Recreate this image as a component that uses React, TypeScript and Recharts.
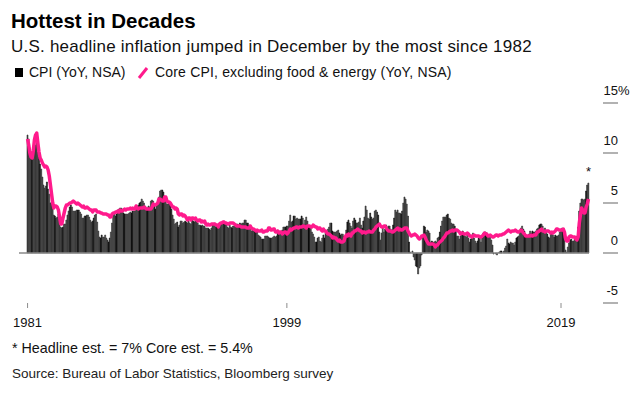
import React from "react";
import {
  Bar,
  ComposedChart,
  Line,
  ReferenceDot,
  ReferenceLine,
  XAxis,
  YAxis,
} from "recharts";

const startYear = 1981;

// CPI, YoY % (NSA), monthly, one row per year from 1981
const cpi = [
  11.8, 11.4, 10.5, 10.0, 9.8, 9.6, 10.8, 10.8, 11.0, 10.1, 9.6, 8.9,
  8.4, 7.6, 6.8, 6.5, 6.7, 7.1, 6.4, 5.9, 5.0, 5.1, 4.6, 3.8,
  3.7, 3.5, 3.6, 3.9, 3.5, 2.6, 2.5, 2.6, 2.9, 2.9, 3.3, 3.8,
  4.2, 4.6, 4.8, 4.6, 4.2, 4.2, 4.2, 4.3, 4.3, 4.3, 4.1, 3.9,
  3.5, 3.5, 3.7, 3.7, 3.8, 3.8, 3.6, 3.3, 3.1, 3.2, 3.5, 3.8,
  3.9, 3.1, 2.2, 1.6, 1.5, 1.8, 1.6, 1.6, 1.8, 1.5, 1.3, 1.1,
  1.5, 2.1, 3.0, 3.8, 3.9, 3.7, 3.9, 4.3, 4.4, 4.5, 4.5, 4.4,
  4.0, 3.9, 3.9, 3.9, 3.9, 4.0, 4.1, 4.0, 4.2, 4.2, 4.2, 4.4,
  4.7, 4.8, 5.0, 5.1, 5.4, 5.2, 5.0, 4.7, 4.3, 4.5, 4.7, 4.6,
  5.2, 5.3, 5.2, 4.7, 4.4, 4.7, 4.8, 5.6, 6.2, 6.3, 6.3, 6.1,
  5.7, 5.3, 4.9, 4.9, 5.0, 4.7, 4.4, 3.8, 3.4, 2.9, 3.0, 3.1,
  2.6, 2.8, 3.2, 3.2, 3.0, 3.1, 3.2, 3.1, 3.0, 3.2, 3.0, 2.9,
  3.3, 3.2, 3.1, 3.2, 3.2, 3.0, 2.8, 2.8, 2.7, 2.8, 2.7, 2.7,
  2.5, 2.5, 2.5, 2.4, 2.3, 2.5, 2.8, 2.9, 3.0, 2.6, 2.7, 2.7,
  2.8, 2.9, 2.9, 3.1, 3.2, 3.0, 2.8, 2.6, 2.5, 2.8, 2.6, 2.5,
  2.7, 2.7, 2.8, 2.9, 2.9, 2.8, 3.0, 2.9, 3.0, 3.0, 3.3, 3.3,
  3.0, 3.0, 2.8, 2.5, 2.2, 2.3, 2.2, 2.2, 2.2, 2.1, 1.8, 1.7,
  1.6, 1.4, 1.4, 1.4, 1.7, 1.7, 1.7, 1.6, 1.5, 1.5, 1.5, 1.6,
  1.7, 1.6, 1.7, 2.3, 2.1, 2.0, 2.1, 2.3, 2.6, 2.6, 2.6, 2.7,
  2.7, 3.2, 3.8, 3.1, 3.2, 3.7, 3.7, 3.4, 3.5, 3.4, 3.4, 3.4,
  3.7, 3.5, 2.9, 3.3, 3.6, 3.2, 2.7, 2.7, 2.6, 2.1, 1.9, 1.6,
  1.1, 1.1, 1.5, 1.6, 1.2, 1.1, 1.5, 1.8, 1.5, 2.0, 2.2, 2.4,
  2.6, 3.0, 3.0, 2.2, 2.1, 2.1, 2.1, 2.2, 2.3, 2.0, 1.8, 1.9,
  1.9, 1.7, 1.7, 2.3, 3.1, 3.3, 3.0, 2.7, 2.5, 3.2, 3.5, 3.3,
  3.0, 3.0, 3.1, 3.5, 2.8, 2.5, 3.2, 3.6, 4.7, 4.3, 3.5, 3.4,
  4.0, 3.6, 3.4, 3.5, 4.2, 4.3, 4.1, 3.8, 2.1, 1.3, 2.0, 2.5,
  2.1, 2.4, 2.8, 2.6, 2.7, 2.7, 2.4, 2.0, 2.8, 3.5, 4.3, 4.1,
  4.3, 4.0, 4.0, 3.9, 4.2, 5.0, 5.6, 5.4, 4.9, 3.7, 1.1, 0.1,
  0.0, 0.2, -0.4, -0.7, -1.3, -1.4, -2.1, -1.5, -1.3, -0.2, 1.8, 2.7,
  2.6, 2.1, 2.3, 2.2, 2.0, 1.1, 1.2, 1.1, 1.1, 1.2, 1.1, 1.5,
  1.6, 2.1, 2.7, 3.2, 3.6, 3.6, 3.6, 3.8, 3.9, 3.5, 3.4, 3.0,
  2.9, 2.9, 2.7, 2.3, 1.7, 1.7, 1.4, 1.7, 2.0, 2.2, 1.8, 1.7,
  1.6, 2.0, 1.5, 1.1, 1.4, 1.8, 2.0, 1.5, 1.2, 1.0, 1.2, 1.5,
  1.6, 1.1, 1.5, 2.0, 2.1, 2.1, 2.0, 1.7, 1.7, 1.7, 1.3, 0.8,
  -0.1, 0.0, -0.1, -0.2, 0.0, 0.1, 0.2, 0.2, 0.0, 0.2, 0.5, 0.7,
  1.4, 1.0, 0.9, 1.1, 1.0, 1.0, 0.8, 1.1, 1.5, 1.6, 1.7, 2.1,
  2.5, 2.7, 2.4, 2.2, 1.9, 1.6, 1.7, 1.9, 2.2, 2.0, 2.2, 2.1,
  2.1, 2.2, 2.4, 2.5, 2.8, 2.9, 2.9, 2.7, 2.3, 2.5, 2.2, 1.9,
  1.6, 1.5, 1.9, 2.0, 1.8, 1.6, 1.8, 1.7, 1.7, 1.8, 2.1, 2.3,
  2.5, 2.3, 1.5, 0.3, 0.1, 0.6, 1.0, 1.3, 1.4, 1.2, 1.2, 1.4,
  1.4, 1.7, 2.6, 4.2, 5.0, 5.4, 5.4, 5.3, 5.4, 6.2, 6.8, 7.0,
];

// Core CPI excluding food & energy, YoY % (NSA), same months
const core = [
  11.4, 10.8, 10.0, 9.6, 9.5, 10.2, 11.3, 11.8, 12.0, 11.0, 10.1, 9.5,
  9.3, 9.0, 8.8, 8.6, 8.7, 8.6, 8.3, 7.7, 6.8, 5.9, 5.0, 4.5,
  4.7, 4.7, 4.6, 4.3, 3.6, 2.9, 2.9, 3.5, 4.0, 4.5, 4.8, 4.8,
  4.9, 5.0, 5.0, 5.1, 5.2, 5.1, 5.0, 4.9, 5.0, 4.9, 4.8, 4.7,
  4.6, 4.7, 4.5, 4.5, 4.6, 4.5, 4.4, 4.3, 4.3, 4.1, 4.3, 4.3,
  4.3, 4.1, 4.1, 4.1, 4.0, 4.0, 3.9, 3.9, 3.9, 3.9, 3.8, 3.8,
  3.6, 3.6, 3.9, 4.0, 4.0, 4.1, 4.1, 4.2, 4.1, 4.3, 4.2, 4.2,
  4.3, 4.4, 4.3, 4.4, 4.4, 4.4, 4.5, 4.4, 4.5, 4.4, 4.4, 4.7,
  4.5, 4.4, 4.5, 4.5, 4.5, 4.5, 4.6, 4.5, 4.4, 4.4, 4.4, 4.4,
  4.4, 4.6, 4.9, 4.8, 4.8, 4.9, 5.0, 5.4, 5.4, 5.3, 5.2, 5.2,
  5.6, 5.6, 5.2, 5.1, 5.1, 5.0, 4.8, 4.6, 4.6, 4.4, 4.5, 4.4,
  3.9, 3.8, 3.9, 3.9, 3.7, 3.8, 3.7, 3.5, 3.3, 3.5, 3.5, 3.3,
  3.5, 3.5, 3.4, 3.5, 3.3, 3.2, 3.3, 3.3, 3.1, 3.2, 3.1, 3.2,
  2.9, 2.8, 2.9, 2.8, 2.8, 2.9, 2.9, 2.9, 2.9, 2.8, 2.8, 2.6,
  2.9, 3.0, 3.0, 3.1, 3.1, 3.0, 3.0, 2.9, 2.9, 3.0, 3.0, 3.0,
  3.0, 2.9, 2.8, 2.7, 2.7, 2.7, 2.7, 2.6, 2.6, 2.6, 2.6, 2.6,
  2.5, 2.5, 2.5, 2.7, 2.5, 2.4, 2.4, 2.3, 2.2, 2.3, 2.2, 2.2,
  2.2, 2.3, 2.1, 2.1, 2.2, 2.2, 2.2, 2.5, 2.5, 2.3, 2.3, 2.4,
  2.4, 2.1, 2.1, 2.2, 2.0, 2.1, 2.1, 1.9, 2.0, 2.1, 2.1, 1.9,
  2.0, 2.2, 2.4, 2.3, 2.4, 2.5, 2.5, 2.6, 2.6, 2.5, 2.6, 2.6,
  2.6, 2.7, 2.7, 2.6, 2.5, 2.7, 2.7, 2.7, 2.6, 2.6, 2.8, 2.7,
  2.6, 2.6, 2.4, 2.5, 2.5, 2.3, 2.2, 2.4, 2.2, 2.2, 2.0, 1.9,
  1.9, 1.8, 1.7, 1.5, 1.6, 1.5, 1.5, 1.3, 1.2, 1.3, 1.1, 1.1,
  1.1, 1.2, 1.6, 1.8, 1.7, 1.9, 1.8, 1.7, 2.0, 2.0, 2.2, 2.2,
  2.3, 2.4, 2.3, 2.2, 2.2, 2.0, 2.1, 2.1, 2.0, 2.1, 2.1, 2.2,
  2.1, 2.1, 2.1, 2.3, 2.4, 2.6, 2.7, 2.8, 2.9, 2.7, 2.6, 2.6,
  2.7, 2.7, 2.5, 2.3, 2.2, 2.2, 2.2, 2.1, 2.1, 2.2, 2.3, 2.4,
  2.5, 2.3, 2.4, 2.3, 2.3, 2.4, 2.5, 2.5, 2.5, 2.2, 2.0, 1.8,
  1.7, 1.8, 1.8, 1.9, 1.8, 1.7, 1.5, 1.4, 1.5, 1.7, 1.7, 1.8,
  1.6, 1.3, 1.1, 0.9, 0.9, 0.9, 0.9, 0.9, 0.8, 0.6, 0.8, 0.8,
  1.0, 1.1, 1.2, 1.3, 1.5, 1.6, 1.8, 2.0, 2.0, 2.1, 2.2, 2.2,
  2.3, 2.2, 2.3, 2.3, 2.3, 2.2, 2.1, 1.9, 2.0, 2.0, 1.9, 1.9,
  1.9, 2.0, 1.9, 1.7, 1.7, 1.6, 1.7, 1.8, 1.7, 1.7, 1.7, 1.7,
  1.6, 1.6, 1.7, 1.8, 2.0, 1.9, 1.9, 1.7, 1.7, 1.8, 1.7, 1.6,
  1.6, 1.7, 1.8, 1.8, 1.7, 1.8, 1.8, 1.8, 1.9, 1.9, 2.0, 2.1,
  2.2, 2.3, 2.2, 2.1, 2.2, 2.2, 2.2, 2.3, 2.2, 2.1, 2.1, 2.2,
  2.3, 2.2, 2.0, 1.9, 1.7, 1.7, 1.7, 1.7, 1.7, 1.8, 1.7, 1.8,
  1.8, 1.8, 2.1, 2.1, 2.2, 2.3, 2.4, 2.2, 2.2, 2.1, 2.2, 2.2,
  2.2, 2.1, 2.0, 2.1, 2.0, 2.1, 2.2, 2.4, 2.4, 2.3, 2.3, 2.3,
  2.3, 2.4, 2.1, 1.4, 1.2, 1.2, 1.6, 1.7, 1.7, 1.6, 1.6, 1.6,
  1.4, 1.3, 1.6, 3.0, 3.8, 4.5, 4.3, 4.0, 4.0, 4.6, 4.9, 5.4,
];

const yTicks = [-5, 0, 5, 10, 15];
const xTickMonths = ["1981-01", "1999-12", "2019-12"];
const xTickLabels = ["1981", "1999", "2019"];

const data = cpi.map((v, i) => ({
  month: `${startYear + Math.floor(i / 12)}-${String((i % 12) + 1).padStart(2, "0")}`,
  cpi: v,
  core: core[i],
}));
const last = data[data.length - 1];

const PINK = "#ff1a8c";
const FONT = '"Liberation Sans", Arial, Helvetica, sans-serif';

const XTick = (props: any) => {
  const { x, y, payload } = props;
  const idx = xTickMonths.indexOf(payload.value);
  return (
    <g>
      <line x1={x} x2={x} y1={y} y2={y + 5} stroke="#8c8c8c" strokeWidth={1} />
      <text x={x} y={y + 24} textAnchor="middle" fontSize={13} fill="#111" fontFamily={FONT}>
        {xTickLabels[idx]}
      </text>
    </g>
  );
};

const YTick = (props: any) => {
  const { x, y, payload } = props;
  return (
    <g>
      <line x1={x + 14} x2={x + 29} y1={y} y2={y} stroke="#999" strokeWidth={1.5} />
      <text x={x + 29} y={y - 8} textAnchor="end" fontSize={13} fill="#111" fontFamily={FONT}>
        {payload.value}
      </text>
      {payload.value === 15 && (
        <text x={x + 29} y={y - 8} fontSize={13} fill="#111" fontFamily={FONT}>
          %
        </text>
      )}
    </g>
  );
};

const Star = (props: any) => (
  <text x={props.cx} y={props.cy - 7} textAnchor="middle" fontSize={13} fill="#111" fontFamily={FONT}>
    *
  </text>
);

const App = () => {
  return (
    <div
      style={{
        position: "absolute",
        left: 0,
        top: 0,
        width: 635,
        height: 395,
        background: "#fff",
        fontFamily: FONT,
        color: "#111",
      }}
    >
      <div style={{ position: "absolute", left: 11, top: 11, fontSize: 20.5, lineHeight: "20px", fontWeight: "bold", color: "#000", whiteSpace: "nowrap" }}>
        Hottest in Decades
      </div>
      <div style={{ position: "absolute", left: 11, top: 38, fontSize: 17, lineHeight: "17px", letterSpacing: 0.22, whiteSpace: "nowrap" }}>
        U.S. headline inflation jumped in December by the most since 1982
      </div>
      <div style={{ position: "absolute", left: 15, top: 68, width: 8, height: 9, background: "#000" }} />
      <div style={{ position: "absolute", left: 29, top: 65, fontSize: 14, lineHeight: "14px", whiteSpace: "nowrap" }}>
        CPI (YoY, NSA)
      </div>
      <svg style={{ position: "absolute", left: 137, top: 67 }} width={12} height={12}>
        <line x1={2} y1={11} x2={10} y2={1} stroke={PINK} strokeWidth={3} />
      </svg>
      <div style={{ position: "absolute", left: 155, top: 65, fontSize: 14, lineHeight: "14px", letterSpacing: 0.18, whiteSpace: "nowrap" }}>
        Core CPI, excluding food &amp; energy (YoY, NSA)
      </div>

      <div style={{ position: "absolute", left: 0, top: 0 }}>
        <ComposedChart
          width={635}
          height={395}
          data={data}
          margin={{ top: 103, right: 6, bottom: 62, left: 19 }}
          barCategoryGap={0}
          barGap={0}
        >
          <defs>
            <pattern id="barStripes" patternUnits="userSpaceOnUse" width={7.7} height={400}>
              <rect x={0} y={0} width={7.7} height={400} fill="#383838" />
              <rect x={0} y={0} width={1.8} height={400} fill="#0a0a0a" />
            </pattern>
          </defs>
          <XAxis
            dataKey="month"
            type="category"
            ticks={xTickMonths}
            interval={0}
            tick={<XTick />}
            tickLine={false}
            axisLine={false}
            tickSize={0}
            tickMargin={0}
            height={30}
            padding={{ left: 8, right: 0 }}
          />
          <YAxis
            orientation="right"
            domain={[-5, 15]}
            ticks={yTicks}
            interval={0}
            tick={<YTick />}
            tickLine={false}
            axisLine={false}
            tickSize={0}
            tickMargin={0}
            width={40}
          />
          <Bar
            dataKey="cpi"
            fill="url(#barStripes)"
            stroke="url(#barStripes)"
            strokeWidth={0.6}
            isAnimationActive={false}
          />
          <ReferenceLine y={0} stroke="#8a8a8a" strokeWidth={1.5} />
          <Line
            dataKey="core"
            type="linear"
            stroke={PINK}
            strokeWidth={3.5}
            dot={false}
            strokeLinejoin="round"
            isAnimationActive={false}
          />
          <ReferenceDot x={last.month} y={last.cpi} r={0} shape={<Star />} />
        </ComposedChart>
      </div>

      <div style={{ position: "absolute", left: 12, top: 341, fontSize: 14.3, lineHeight: "14px", whiteSpace: "nowrap" }}>
        * Headline est. = 7% Core est. = 5.4%
      </div>
      <div style={{ position: "absolute", left: 12, top: 367, fontSize: 13.5, lineHeight: "13.5px", whiteSpace: "nowrap", color: "#222" }}>
        Source: Bureau of Labor Statistics, Bloomberg survey
      </div>
    </div>
  );
};

export default App;
